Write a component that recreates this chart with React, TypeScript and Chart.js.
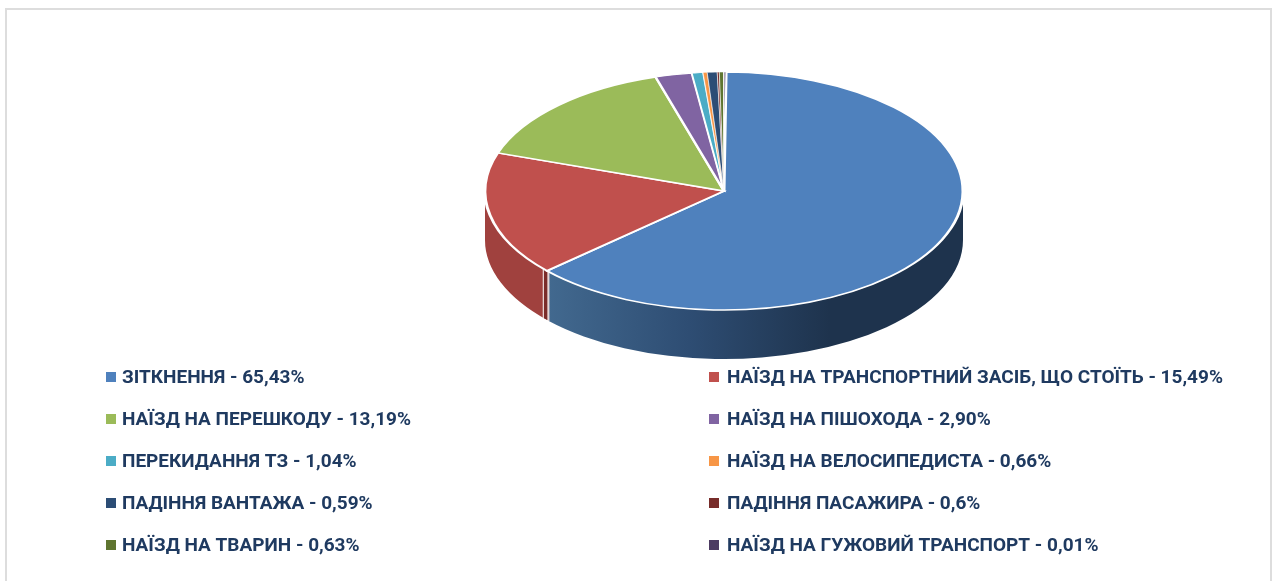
import React, { useEffect, useRef } from "react";
import { Chart, registerables } from "chart.js";

Chart.register(...registerables);

const categories = [
  "ЗІТКНЕННЯ",
  "НАЇЗД НА ТРАНСПОРТНИЙ ЗАСІБ, ЩО СТОЇТЬ",
  "НАЇЗД НА ПЕРЕШКОДУ",
  "НАЇЗД НА ПІШОХОДА",
  "ПЕРЕКИДАННЯ ТЗ",
  "НАЇЗД НА ВЕЛОСИПЕДИСТА",
  "ПАДІННЯ ВАНТАЖА",
  "ПАДІННЯ ПАСАЖИРА",
  "НАЇЗД НА ТВАРИН",
  "НАЇЗД НА ГУЖОВИЙ ТРАНСПОРТ",
];
const statedPercents = ["65,43%", "15,49%", "13,19%", "2,90%", "1,04%", "0,66%", "0,59%", "0,6%", "0,63%", "0,01%"];
// Shares as the slices are actually drawn in the picture
const drawnShares = [63.15, 16.9, 15.2, 2.46, 0.75, 0.28, 0.67, 0.14, 0.3, 0.15];
const colors = ["#4F81BD", "#C0504D", "#9BBB59", "#8064A2", "#4BACC6", "#F79646", "#2C4D75", "#772C2A", "#5F7530", "#4D3B62"];
const sliceBorders = [3, 3, 3, 2.4, 1.6, 0.8, 0.8, 0.8, 0.8, 1.4];

const CX = 724, CY = 191, RX = 239, RY = 119, DEPTH = 49;

function wall(ctx: CanvasRenderingContext2D, a: number, b: number, fill: any) {
  const s = Math.max(a, 0), e = Math.min(b, Math.PI);
  if (e <= s) return;
  ctx.beginPath();
  ctx.ellipse(CX, CY, RX, RY, 0, s, e, false);
  ctx.ellipse(CX, CY + DEPTH, RX, RY, 0, e, s, true);
  ctx.closePath();
  ctx.fillStyle = fill;
  ctx.fill();
}

const pie3d = {
  id: "pie3d",
  beforeDatasetsDraw(chart: any) {
    const ctx: CanvasRenderingContext2D = chart.ctx;
    const arcs = chart.getDatasetMeta(0).data;
    const blueEnd = arcs[0].endAngle;
    const grad = ctx.createLinearGradient(548, 0, 830, 0);
    grad.addColorStop(0, "#42698F");
    grad.addColorStop(0.5, "#2E4D73");
    grad.addColorStop(1, "#1E334D");
    wall(ctx, arcs[1].startAngle, arcs[1].endAngle, "#A0413E");
    wall(ctx, blueEnd - 0.004, blueEnd + 0.02, "#7B2C2A");
    wall(ctx, arcs[0].startAngle, blueEnd - 0.012, grad);
    const edge = (ang: number) => {
      const x = CX + RX * Math.cos(ang), y = CY + RY * Math.sin(ang);
      ctx.beginPath();
      ctx.moveTo(x, y);
      ctx.lineTo(x, y + DEPTH);
      ctx.strokeStyle = "#E8D5D3";
      ctx.lineWidth = 1.3;
      ctx.stroke();
    };
    edge(blueEnd - 0.012);
    edge(blueEnd + 0.022);
    ctx.save();
    ctx.translate(CX, CY);
    ctx.scale(1, RY / RX);
    ctx.translate(-CX, -CY);
  },
  afterDatasetsDraw(chart: any) {
    chart.ctx.restore();
  },
  afterDraw(chart: any) {
    const ctx: CanvasRenderingContext2D = chart.ctx;
    const labels: string[] = chart.data.labels;
    ctx.save();
    ctx.font = "700 19px Roboto";
    ctx.textBaseline = "middle";
    ctx.textAlign = "left";
    labels.forEach((name, i) => {
      const col = i % 2, row = Math.floor(i / 2);
      const y = 377 + row * 42;
      ctx.fillStyle = colors[i];
      ctx.fillRect(col ? 709 : 106, y - 5, 10, 10);
      ctx.fillStyle = "#1F3A60";
      ctx.fillText(`${name} - ${statedPercents[i]}`, col ? 727 : 122, y + 1);
    });
    ctx.restore();
  },
};

export default function App() {
  const ref = useRef<HTMLCanvasElement>(null);
  useEffect(() => {
    const chart = new Chart(ref.current!, {
      type: "pie",
      data: {
        labels: categories,
        datasets: [{ data: drawnShares, backgroundColor: colors, borderColor: "#FFFFFF", borderWidth: sliceBorders, radius: RX, borderJoinStyle: "miter" } as any],
      },
      options: {
        responsive: false,
        animation: false,
        rotation: 0.5,
        layout: { padding: { left: CX - RX, right: 1272 - CX - RX, top: 0, bottom: 581 - 2 * CY } },
        plugins: { legend: { display: false }, tooltip: { enabled: false } },
      },
      plugins: [pie3d],
    });
    return () => chart.destroy();
  }, []);
  return (
    <div style={{ position: "fixed", inset: 0, overflow: "hidden", background: "#fff" }}>
      <div style={{ position: "absolute", left: 5, top: 8, width: 1263, height: 600, border: "2px solid #DDDDDD" }} />
      <canvas ref={ref} width={1272} height={581} style={{ position: "absolute", left: 0, top: 0, filter: "blur(0.5px)" }} />
    </div>
  );
}
